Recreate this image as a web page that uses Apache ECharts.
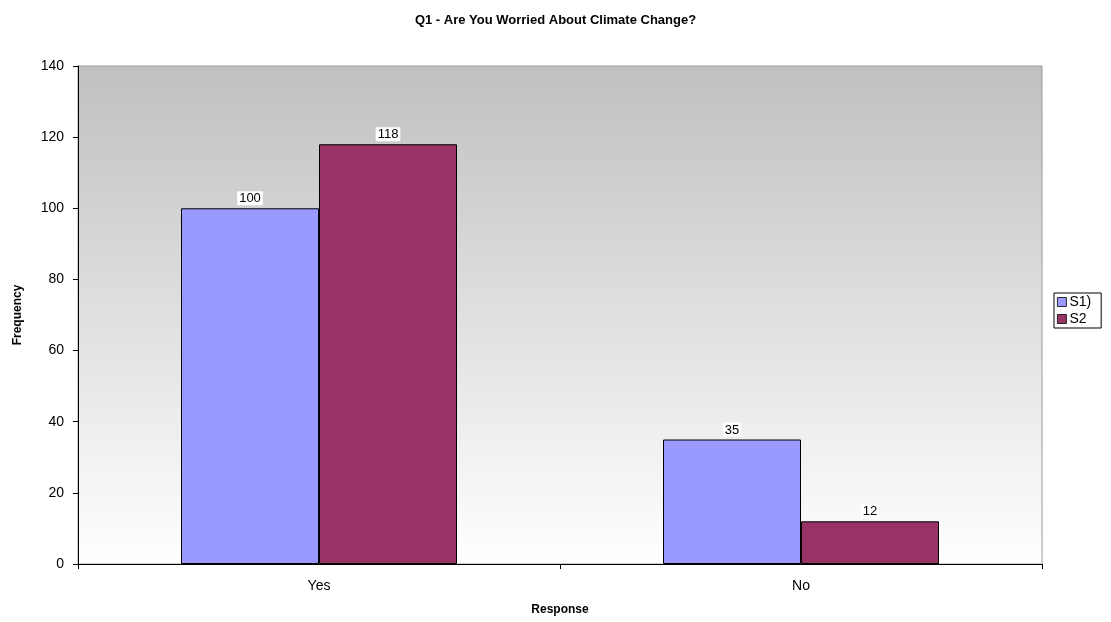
<!DOCTYPE html>
<html>
<head>
<meta charset="utf-8">
<script src="https://cdn.jsdelivr.net/npm/echarts@6/dist/echarts.min.js"></script>
<style>
  html, body { margin: 0; padding: 0; background: #ffffff; }
  #chart { width: 1111px; height: 622px; }
</style>
</head>
<body>
<div id="chart"></div>
<script>
// Survey responses per category
const categories = ['Yes', 'No'];
const s1Values = [100, 35];
const s2Values = [118, 12];
const seriesNames = ['S1)', 'S2'];

const chart = echarts.init(document.getElementById('chart'), null, { renderer: 'canvas' });

const FONT = 'Liberation Sans, Arial, sans-serif';

const labelStyle = {
  show: true,
  position: 'top',
  distance: 3,
  color: '#000',
  fontFamily: FONT,
  fontSize: 13,
  backgroundColor: '#ffffff',
  padding: [1, 2, 0, 2]
};

chart.setOption({
  animation: false,
  backgroundColor: '#ffffff',
  title: {
    text: 'Q1 - Are You Worried About Climate Change?',
    left: 'center',
    top: 9,
    textStyle: { fontFamily: FONT, fontSize: 13, fontWeight: 'bold', color: '#000' }
  },
  legend: {
    orient: 'vertical',
    left: 1054,
    top: 293,
    itemWidth: 9,
    itemHeight: 9,
    itemGap: 3,
    padding: [2, 10, 2, 3],
    borderColor: '#000',
    borderWidth: 1,
    icon: 'rect',
    textStyle: { fontFamily: FONT, fontSize: 14, color: '#000', padding: [0, 0, 0, -2] },
    data: seriesNames.map(n => ({ name: n, itemStyle: { borderColor: '#000', borderWidth: 0.8 } }))
  },
  grid: {
    left: 78,
    right: 69,
    top: 66,
    bottom: 58,
    outerBoundsMode: 'none',
    containLabel: false,
    show: true,
    borderColor: '#9a9a9a',
    borderWidth: 1,
    backgroundColor: new echarts.graphic.LinearGradient(0, 0, 0, 1, [
      { offset: 0, color: '#c0c0c0' },
      { offset: 1, color: '#ffffff' }
    ])
  },
  xAxis: {
    type: 'category',
    data: categories,
    name: 'Response',
    nameLocation: 'middle',
    nameGap: 40,
    nameTextStyle: { fontFamily: FONT, fontSize: 12, fontWeight: 'bold', color: '#000' },
    axisLine: { lineStyle: { color: '#000', width: 1 } },
    axisTick: { show: true, length: 5, lineStyle: { color: '#000' } },
    axisLabel: { fontFamily: FONT, fontSize: 14, color: '#000', margin: 15 },
    splitLine: { show: false }
  },
  yAxis: {
    type: 'value',
    min: 0,
    max: 140,
    interval: 20,
    name: 'Frequency',
    nameLocation: 'middle',
    nameGap: 54,
    nameTextStyle: { fontFamily: FONT, fontSize: 12, fontWeight: 'bold', color: '#000' },
    axisLine: { show: true, lineStyle: { color: '#000', width: 1 } },
    axisTick: { show: true, length: 5, lineStyle: { color: '#000' } },
    axisLabel: { fontFamily: FONT, fontSize: 14, color: '#000', margin: 14 },
    splitLine: { show: false }
  },
  series: [
    {
      name: seriesNames[0],
      type: 'bar',
      data: s1Values,
      barWidth: 138,
      barGap: '0%',
      itemStyle: { color: '#9999ff', borderColor: '#000', borderWidth: 1 },
      label: labelStyle
    },
    {
      name: seriesNames[1],
      type: 'bar',
      data: s2Values,
      barWidth: 138,
      barGap: '0%',
      itemStyle: { color: '#993366', borderColor: '#000', borderWidth: 1 },
      label: labelStyle
    }
  ]
});
</script>
</body>
</html>
